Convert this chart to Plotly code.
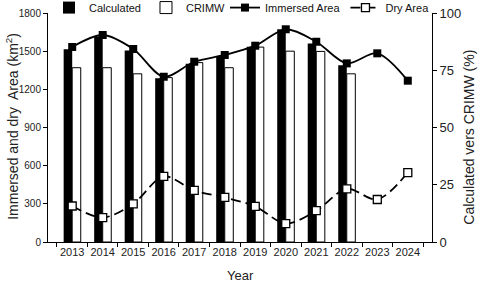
import plotly.graph_objects as go

years = ["2013", "2014", "2015", "2016", "2017", "2018", "2019", "2020", "2021", "2022", "2023", "2024"]
bar_years = years[:10]
calculated = [1515, 1615, 1505, 1288, 1402, 1460, 1535, 1672, 1560, 1390]
crimw = [1370, 1370, 1322, 1292, 1410, 1370, 1532, 1500, 1498, 1322]
immersed = [1533, 1627, 1517, 1299, 1417, 1470, 1543, 1672, 1574, 1404, 1483, 1268]
dry = [283, 192, 300, 516, 405, 350, 280, 145, 246, 418, 334, 546]

left_ticks = [0, 300, 600, 900, 1200, 1500, 1800]
right_ticks = [0, 25, 50, 75, 100]

x_title = "Year"
left_title = "Immersed and dry  Area (km<sup>2</sup>)"
right_title = "Calculated vers CRIMW (%)"

FONT = "Arial, Liberation Sans, sans-serif"

fig = go.Figure()
fig.add_trace(go.Bar(x=bar_years, y=calculated, name="Calculated",
                     marker=dict(color="black", line=dict(color="black", width=0))))
fig.add_trace(go.Bar(x=bar_years, y=crimw, name="CRIMW",
                     marker=dict(color="white", line=dict(color="black", width=1))))
fig.add_trace(go.Scatter(x=years, y=immersed, name="Immersed Area", mode="lines+markers",
                         legend="legend2",
                         line=dict(color="black", width=1.8, shape="spline", smoothing=0.9),
                         marker=dict(symbol="square", size=8, color="black")))
fig.add_trace(go.Scatter(x=years, y=dry, name="Dry Area", mode="lines+markers",
                         legend="legend2",
                         line=dict(color="black", width=1.8, shape="spline", smoothing=0.9, dash="10px,5px"),
                         marker=dict(symbol="square", size=8, color="white",
                                     line=dict(color="black", width=1.3))))
# empty trace so that the right-hand percentage axis is drawn
fig.add_trace(go.Scatter(x=[], y=[], yaxis="y2", showlegend=False, hoverinfo="skip"))

legend_common = dict(orientation="h", xref="container", xanchor="left",
                     yref="paper", yanchor="top", y=1.087,
                     font=dict(size=11, color="#111"), bgcolor="rgba(0,0,0,0)",
                     itemwidth=30, tracegroupgap=0)

fig.update_layout(
    width=480, height=290,
    margin=dict(l=48, r=48, t=13, b=48, autoexpand=False),
    paper_bgcolor="white", plot_bgcolor="white",
    font=dict(family=FONT, color="#222", size=11),
    barmode="group", bargap=0.44, bargroupgap=0,
    showlegend=True,
    legend=dict(x=49 / 480, **legend_common),
    legend2=dict(x=225 / 480, **legend_common),
    xaxis=dict(type="category", showline=True, linecolor="black", linewidth=1,
               ticks="outside", tickson="boundaries", ticklen=4, tickcolor="black",
               showgrid=False, tickfont=dict(size=11), tickangle=0, mirror=False),
    yaxis=dict(range=[0, 1800], tickvals=left_ticks, showline=True, linecolor="black",
               linewidth=1, ticks="outside", ticklen=4, tickcolor="black", showgrid=False,
               zeroline=False, tickfont=dict(size=10)),
    yaxis2=dict(range=[0, 100], tickvals=right_ticks, overlaying="y", side="right", anchor="x",
                showline=True, linecolor="black", linewidth=1, ticks="outside", ticklen=4,
                tickcolor="black", showgrid=False, zeroline=False, tickfont=dict(size=13)),
    annotations=[
        dict(text=x_title, xref="paper", yref="paper", x=0.5, y=-0.148, showarrow=False,
             xanchor="center", yanchor="middle", font=dict(size=13)),
        dict(text=left_title, xref="paper", yref="paper", x=-0.094, y=0.507, showarrow=False,
             textangle=-90, xanchor="center", yanchor="middle", font=dict(size=14)),
        dict(text=right_title, xref="paper", yref="paper", x=1.094, y=0.456, showarrow=False,
             textangle=-90, xanchor="center", yanchor="middle", font=dict(size=14)),
    ],
)

fig.write_html("out.html", config={"displayModeBar": False},
               post_script="document.body.style.margin='0';")
